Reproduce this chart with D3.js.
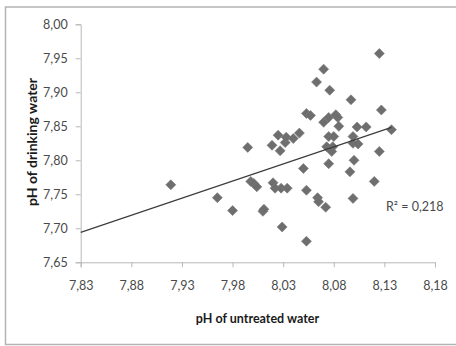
<!DOCTYPE html>
<html>
<head>
<meta charset="utf-8">
<script src="https://cdn.jsdelivr.net/npm/d3@7"></script>
<style>
  html, body { margin: 0; padding: 0; background: #fff; }
  svg { display: block; }
  text { font-family: Lato, "Open Sans", sans-serif; }
</style>
</head>
<body>
<svg id="chart" width="456" height="346"></svg>
<script>
// pH of untreated water (x) and pH of drinking water (y) per sample
const untreatedPH = [
  7.919, 7.965, 7.980, 7.995, 7.998, 8.001, 8.004, 8.010, 8.011, 8.019,
  8.025, 8.027, 8.020, 8.022, 8.028, 8.034, 8.029, 8.032, 8.033, 8.040,
  8.046, 8.050, 8.053, 8.053, 8.053, 8.057, 8.063, 8.070, 8.076, 8.064,
  8.065, 8.072, 8.070, 8.075, 8.082, 8.084, 8.085, 8.075, 8.080, 8.073,
  8.079, 8.078, 8.075, 8.097, 8.096, 8.099, 8.099, 8.104, 8.100, 8.099,
  8.103, 8.112, 8.125, 8.127, 8.125, 8.120, 8.137
];
const drinkingPH = [
  7.764, 7.745, 7.726, 7.819, 7.769, 7.766, 7.761, 7.725, 7.728, 7.822,
  7.837, 7.814, 7.767, 7.759, 7.759, 7.759, 7.702, 7.826, 7.834, 7.832,
  7.840, 7.788, 7.756, 7.681, 7.869, 7.866, 7.915, 7.934, 7.903, 7.745,
  7.739, 7.731, 7.856, 7.863, 7.867, 7.863, 7.850, 7.835, 7.835, 7.820,
  7.820, 7.813, 7.795, 7.889, 7.783, 7.835, 7.825, 7.824, 7.800, 7.744,
  7.849, 7.849, 7.957, 7.874, 7.813, 7.769, 7.845
];
const xTicks = [7.83, 7.88, 7.93, 7.98, 8.03, 8.08, 8.13, 8.18];
const yTicks = [7.65, 7.70, 7.75, 7.80, 7.85, 7.90, 7.95, 8.00];
const xTitle = "pH of untreated water";
const yTitle = "pH of drinking water";
// linear trend fitted to the sample set: y = trendSlope * x + trendIntercept
const trendSlope = 0.503;
const trendIntercept = 3.7555;
const rSquaredLabel = "R² = 0,218";

const fmt = v => v.toFixed(2).replace(".", ",");

const svg = d3.select("#chart");

// chart area frame
svg.append("rect")
  .attr("x", 5.5).attr("y", 7).attr("width", 460).attr("height", 337.5)
  .attr("fill", "#fff").attr("stroke", "#b3b3b3").attr("stroke-width", 1.5);

const x = d3.scaleLinear().domain([7.83, 8.18]).range([80.7, 435]);
const y = d3.scaleLinear().domain([7.65, 8.00]).range([262.3, 24.3]);

// y axis
const yAxis = svg.append("g")
  .attr("transform", `translate(${x.range()[0]},0)`)
  .call(d3.axisLeft(y).tickValues(yTicks).tickFormat(fmt).tickSize(5).tickPadding(8));
// x axis
const xAxis = svg.append("g")
  .attr("transform", `translate(0,${y.range()[0]})`)
  .call(d3.axisBottom(x).tickValues(xTicks).tickFormat(fmt).tickSize(5).tickPadding(14));

[xAxis, yAxis].forEach(g => {
  g.select(".domain").attr("stroke", "#b8b8b8");
  g.selectAll(".tick line").attr("stroke", "#b8b8b8");
  g.selectAll(".tick text")
    .attr("fill", "#4a4a4a")
    .style("font-size", "12.5px")
    .style("font-family", "Lato, sans-serif");
});

// markers
const n = untreatedPH.length;
const pts = d3.range(n).map(i => [untreatedPH[i], drinkingPH[i]]);
svg.append("g").selectAll("path")
  .data(pts)
  .join("path")
  .attr("d", d3.symbol(d3.symbolSquare, 50))
  .attr("transform", d => `translate(${x(d[0])},${y(d[1])}) rotate(45)`)
  .attr("fill", "#6e6e6e")
  .attr("stroke", "#7a7a7a")
  .attr("stroke-width", 0.6);

// trend line from the axis start to the largest sample
const x0 = x.domain()[0], x1 = d3.max(untreatedPH);
svg.append("line")
  .attr("x1", x(x0)).attr("y1", y(trendIntercept + trendSlope * x0))
  .attr("x2", x(x1)).attr("y2", y(trendIntercept + trendSlope * x1))
  .attr("stroke", "#3c3c3c").attr("stroke-width", 1.1);

svg.append("text")
  .attr("x", 386).attr("y", 211)
  .attr("fill", "#4a4a4a")
  .style("font-size", "12.5px")
  .text(rSquaredLabel);

// axis titles
svg.append("text")
  .attr("x", 257.5).attr("y", 323)
  .attr("text-anchor", "middle")
  .attr("fill", "#1a1a1a")
  .style("font-size", "12.5px").style("font-weight", "bold")
  .text(xTitle);

svg.append("text")
  .attr("transform", "translate(37,142) rotate(-90)")
  .attr("text-anchor", "middle")
  .attr("fill", "#1a1a1a")
  .style("font-size", "14px").style("font-weight", "bold")
  .text(yTitle);
</script>
</body>
</html>
